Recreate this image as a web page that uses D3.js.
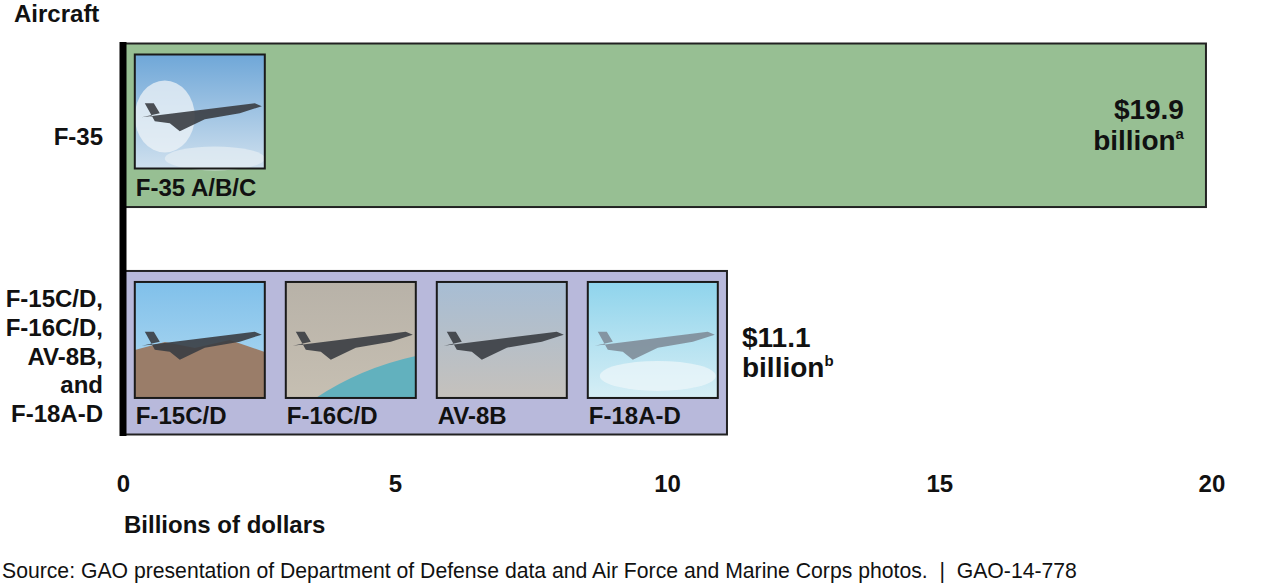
<!DOCTYPE html>
<html>
<head>
<meta charset="utf-8">
<script src="https://cdn.jsdelivr.net/npm/d3@7"></script>
<style>
  body { margin: 0; background: #fff; }
  svg { display: block; font-family: "Liberation Sans", Arial, sans-serif; }
</style>
</head>
<body>
<div id="chart"></div>
<script>
// Data
const categories = ['F-35', 'F-15C/D, F-16C/D, AV-8B, and F-18A-D'];
const categoryLines = [['F-35'], ['F-15C/D,', 'F-16C/D,', 'AV-8B,', 'and', 'F-18A-D']];
const costs = [19.9, 11.1];
const costNotes = ['a', 'b'];
const barColors = ['#97bf93', '#b8b9db'];
const photoGroups = [['F-35 A/B/C'], ['F-15C/D', 'F-16C/D', 'AV-8B', 'F-18A-D']];
const xTicks = [0, 5, 10, 15, 20];

const width = 1280, height = 585;

const svg = d3.select('#chart').append('svg')
  .attr('width', width)
  .attr('height', height);

const x = d3.scaleLinear().domain([0, 20]).range([122.8, 1211.4]);
const y = d3.scaleBand().domain(categories).range([43.5, 434.5]).paddingInner(0.281).paddingOuter(0);

// Title of the vertical axis
svg.append('text')
  .attr('x', 14).attr('y', 22)
  .attr('font-size', 24).attr('font-weight', 'bold').attr('fill', '#111')
  .text('Aircraft');

// Bars
svg.selectAll('rect.bar')
  .data(categories)
  .join('rect')
  .attr('class', 'bar')
  .attr('x', x(0))
  .attr('y', d => y(d))
  .attr('width', (d, i) => x(costs[i]) - x(0))
  .attr('height', y.bandwidth())
  .attr('fill', (d, i) => barColors[i])
  .attr('stroke', '#222')
  .attr('stroke-width', 2);

// Photo placeholders (simple drawn stand-ins for the photos)
const sky = {
  'F-35 A/B/C': ['#6fa7d8', '#cfe0ee'],
  'F-15C/D': ['#80c0ea', '#b5dcf2'],
  'F-16C/D': ['#b8b2a8', '#c6bfb2'],
  'AV-8B': ['#a7bdd4', '#c5c1bc'],
  'F-18A-D': ['#8fd4ec', '#d6eef5']
};
const skyKeys = Object.keys(sky);
const defs = svg.append('defs');
skyKeys.forEach((k, i) => {
  const g = defs.append('linearGradient').attr('id', 'sky' + i)
    .attr('x1', 0).attr('y1', 0).attr('x2', 0).attr('y2', 1);
  g.append('stop').attr('offset', '0%').attr('stop-color', sky[k][0]);
  g.append('stop').attr('offset', '100%').attr('stop-color', sky[k][1]);
});

const photoW = 130, photoStep = 151;

categories.forEach((cat, ci) => {
  const top = y(cat);
  const names = photoGroups[ci];
  const px = d => x(0) + 12 + names.indexOf(d) * photoStep;
  const pTop = top + 11;
  const ph = ci === 0 ? 114 : 116;

  const photo = svg.append('g').selectAll('g.photo').data(names).join('g').attr('class', 'photo');

  photo.append('rect')
    .attr('x', px).attr('y', pTop)
    .attr('width', photoW).attr('height', ph)
    .attr('fill', d => `url(#sky${skyKeys.indexOf(d)})`);

  // clouds / ground
  photo.filter(d => d === 'F-35 A/B/C').append('ellipse')
    .attr('cx', d => px(d) + 30).attr('cy', pTop + 62)
    .attr('rx', 30).attr('ry', 36).attr('fill', '#eef3f7').attr('opacity', 0.75);
  photo.filter(d => d === 'F-35 A/B/C').append('ellipse')
    .attr('cx', d => px(d) + 80).attr('cy', pTop + ph - 10)
    .attr('rx', 50).attr('ry', 12).attr('fill', '#e6eef4').attr('opacity', 0.7);
  photo.filter(d => d === 'F-15C/D').append('path')
    .attr('d', d => {
      const l = px(d), w = photoW, b = pTop + ph;
      return `M${l},${b - 48} L${l + 30},${b - 56} L${l + 60},${b - 50} L${l + 95},${b - 58} L${l + w},${b - 46} L${l + w},${b} L${l},${b} Z`;
    })
    .attr('fill', '#9a7d69');
  photo.filter(d => d === 'F-16C/D').append('path')
    .attr('d', d => {
      const l = px(d), w = photoW, b = pTop + ph;
      return `M${l + 30},${b} Q${l + 75},${b - 30} ${l + w},${b - 42} L${l + w},${b} Z`;
    })
    .attr('fill', '#62b1be');
  photo.filter(d => d === 'F-18A-D').append('ellipse')
    .attr('cx', d => px(d) + 70).attr('cy', pTop + ph - 22)
    .attr('rx', 58).attr('ry', 15).attr('fill', '#eef7fa').attr('opacity', 0.7);

  // aircraft silhouettes
  photo.append('path')
    .attr('d', d => {
      const cx = px(d) + photoW / 2, cy = pTop + ph * 0.48;
      return `M${cx - 58},${cy + 8} L${cx + 55},${cy - 6} L${cx + 62},${cy - 3} L${cx + 40},${cy + 4}
              L${cx + 5},${cy + 10} L${cx - 20},${cy + 22} L${cx - 30},${cy + 14} L${cx - 45},${cy + 12}
              L${cx - 55},${cy - 6} L${cx - 46},${cy - 6} L${cx - 40},${cy + 4} Z`;
    })
    .attr('fill', d => d === 'F-18A-D' ? '#7f8d99' : '#3a3d42')
    .attr('opacity', 0.9);

  photo.append('rect')
    .attr('x', px).attr('y', pTop)
    .attr('width', photoW).attr('height', ph)
    .attr('fill', 'none')
    .attr('stroke', '#1a1a1a').attr('stroke-width', 2);

  photo.append('text')
    .attr('x', d => px(d) + 1)
    .attr('y', top + (ci === 0 ? 152 : 153))
    .attr('font-size', 24).attr('font-weight', 'bold').attr('fill', '#111')
    .text(d => d);
});

// Vertical axis line
svg.append('line')
  .attr('x1', 123).attr('x2', 123)
  .attr('y1', 42).attr('y2', 436)
  .attr('stroke', '#000').attr('stroke-width', 7);

// Category labels
categories.forEach((cat, i) => {
  const lines = categoryLines[i];
  const mid = y(cat) + y.bandwidth() / 2 + (lines.length === 1 ? 20 : 12);
  const lh = 28.7;
  const t = svg.append('text')
    .attr('text-anchor', 'end')
    .attr('font-size', 24).attr('font-weight', 'bold').attr('fill', '#111');
  lines.forEach((ln, j) => {
    t.append('tspan')
      .attr('x', 103)
      .attr('y', mid + (j - (lines.length - 1) / 2) * lh)
      .text(ln);
  });
});

// Value labels
costs.forEach((v, i) => {
  const cat = categories[i];
  const inside = i === 0;
  const lx = inside ? x(v) - 22 : x(v) + 15;
  const by = inside ? y(cat) + 75.5 : y(cat) + 76;
  const t = svg.append('text')
    .attr('text-anchor', inside ? 'end' : 'start')
    .attr('font-size', 28).attr('font-weight', 'bold').attr('fill', '#111');
  t.append('tspan').attr('x', lx).attr('y', by).text('$' + d3.format('.1f')(v));
  t.append('tspan').attr('x', lx).attr('y', by + 30.5).text('billion');
  t.append('tspan').attr('font-size', 15).attr('dy', -11).text(costNotes[i]);
});

// X axis
const xAxis = svg.append('g')
  .attr('transform', 'translate(0,467)')
  .call(d3.axisBottom(x).tickValues(xTicks).tickSize(0).tickPadding(8));
xAxis.select('.domain').remove();
xAxis.selectAll('text')
  .attr('font-family', '"Liberation Sans", Arial, sans-serif')
  .attr('font-size', 24).attr('font-weight', 'bold').attr('fill', '#111');

svg.append('text')
  .attr('x', 124).attr('y', 533)
  .attr('font-size', 24).attr('font-weight', 'bold').attr('fill', '#111')
  .text('Billions of dollars');

svg.append('text')
  .attr('x', 2).attr('y', 578)
  .attr('font-size', 21.2).attr('fill', '#111')
  .style('white-space', 'pre')
  .text('Source: GAO presentation of Department of Defense data and Air Force and Marine Corps photos.  |  GAO-14-778');
</script>
</body>
</html>
